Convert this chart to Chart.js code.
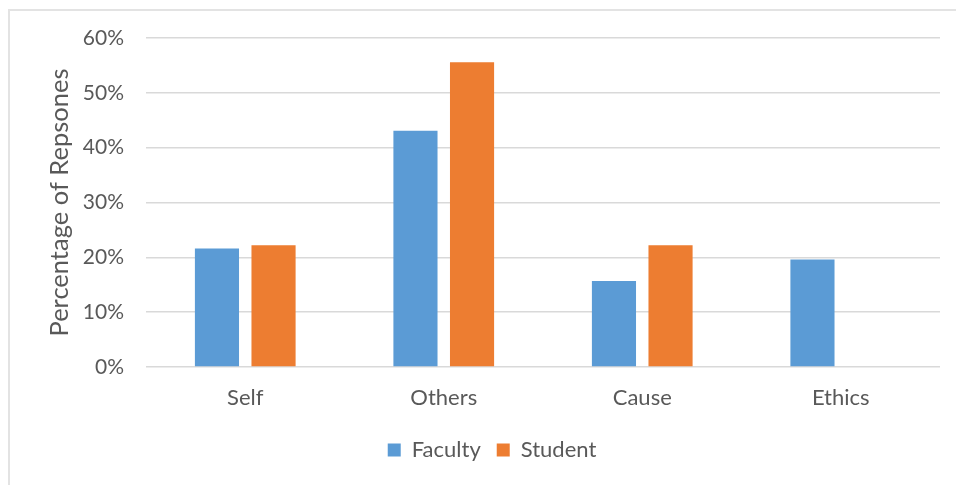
<!DOCTYPE html>
<html>
<head>
<meta charset="utf-8">
<script src="https://cdn.jsdelivr.net/npm/chart.js@4.4.1/dist/chart.umd.min.js"></script>
<style>
  html, body { margin: 0; padding: 0; background: #fff; }
  #frame { position: absolute; left: 8px; top: 9px; width: 1000px; height: 520px; border: 2px solid #e3e3e3; box-sizing: border-box; }
  #wrap { position: absolute; left: 0; top: 0; width: 956px; height: 485px; }
</style>
</head>
<body>
<div id="frame"></div>
<div id="wrap"><canvas id="chart"></canvas></div>
<script>
// values in percent
const categories = ["Self", "Others", "Cause", "Ethics"];
const faculty = [21.6, 43.1, 15.7, 19.6];
const student = [22.2, 55.6, 22.2, 0];
const yTicks = [0, 10, 20, 30, 40, 50, 60];

const textColor = "#595959";
const fontFamily = "Lato, 'Open Sans', sans-serif";

const config = {
    type: 'bar',
    data: {
        labels: categories,
        datasets: [
            {
                label: 'Faculty',
                data: faculty,
                backgroundColor: '#5B9BD5',
                barPercentage: 0.78,
                categoryPercentage: 0.57
            },
            {
                label: 'Student',
                data: student,
                backgroundColor: '#ED7D31',
                barPercentage: 0.78,
                categoryPercentage: 0.57
            }
        ]
    },
    options: {
        responsive: false,
        animation: false,
        layout: {
            padding: { left: 44, right: 16, top: 38, bottom: 14 }
        },
        plugins: {
            tooltip: { enabled: false },
            legend: {
                position: 'bottom',
                labels: {
                    color: textColor,
                    font: { family: fontFamily, size: 22 },
                    boxWidth: 13,
                    boxHeight: 13,
                    padding: 16
                }
            }
        },
        scales: {
            x: {
                grid: { display: false },
                border: { display: false },
                ticks: {
                    color: textColor,
                    font: { family: fontFamily, size: 22 },
                    padding: 10
                },
                afterFit: (scale) => { scale.height = 56; }
            },
            y: {
                min: yTicks[0],
                max: yTicks[yTicks.length - 1],
                afterBuildTicks: (scale) => {
                    scale.ticks = yTicks.map((v) => ({ value: v }));
                },
                grid: { color: '#d9d9d9', lineWidth: 1.5, drawTicks: false },
                border: { display: false },
                ticks: {
                    color: textColor,
                    font: { family: fontFamily, size: 21 },
                    padding: 22,
                    callback: (v) => v + '%'
                },
                title: {
                    display: true,
                    text: 'Percentage of Repsones',
                    color: textColor,
                    font: { family: fontFamily, size: 25.5 },
                    padding: { top: 0, bottom: 0 }
                },
                afterFit: (scale) => { scale.width = 102; }
            }
        }
    }
};

const canvas = document.getElementById('chart');
canvas.width = 956;
canvas.height = 485;
var myChart = new Chart(canvas.getContext('2d'), config);
</script>
</body>
</html>
